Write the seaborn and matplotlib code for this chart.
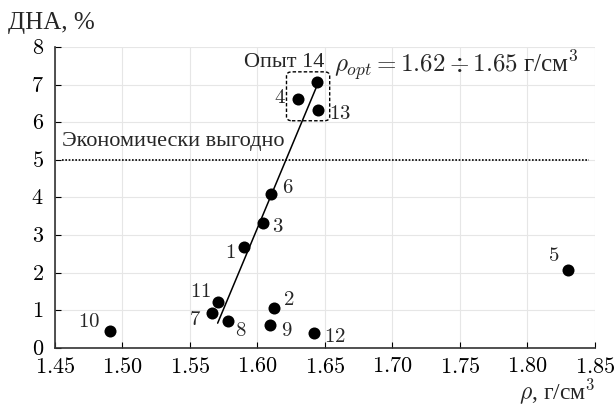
import matplotlib
matplotlib.use("Agg")
import matplotlib.pyplot as plt
import seaborn as sns
import pandas as pd
from matplotlib.patches import FancyBboxPatch
from matplotlib.ticker import FuncFormatter

# ---- data ----
exp_ids = [1, 2, 3, 4, 5, 6, 7, 8, 9, 10, 11, 12, 13, 14]
density = [1.590, 1.612, 1.604, 1.630, 1.830, 1.610, 1.566, 1.578, 1.609, 1.491, 1.571, 1.642, 1.645, 1.644]
dna_pct = [2.69, 1.07, 3.32, 6.63, 2.07, 4.09, 0.92, 0.73, 0.61, 0.46, 1.21, 0.39, 6.32, 7.06]
trend_x = [1.5705, 1.6436]
trend_y = [0.66, 6.93]
threshold = 5.0
threshold_x = [1.4552, 1.8456]
optimal_group = [4, 13, 14]
x_ticks = [1.45, 1.50, 1.55, 1.60, 1.65, 1.70, 1.75, 1.80, 1.85]
y_ticks = [0, 1, 2, 3, 4, 5, 6, 7, 8]

# label offsets in points (styling)
offsets = {1: (-10, -5), 2: (11, 5), 3: (11, -3), 4: (-13, 0), 5: (-10, 10),
           6: (12, 4), 7: (-12, -5), 8: (9, -8), 9: (12, -5), 10: (-15, 6),
           11: (-13, 7), 12: (15, -3), 13: (16, -3)}

sns.set_theme(style="whitegrid")
plt.rcParams['font.family'] = ['Liberation Serif', 'DejaVu Serif']
plt.rcParams['mathtext.fontset'] = 'cm'

df = pd.DataFrame({"id": exp_ids, "rho": density, "dna": dna_pct})

fig = plt.figure(figsize=(6.15, 4.07), dpi=100)
ax = fig.add_axes([0.0894, 0.145, 0.878, 0.7395])
ax.set_facecolor("white")

sns.scatterplot(data=df, x="rho", y="dna", ax=ax, s=75, color="black",
                edgecolor="black", linewidth=0, zorder=5)
sns.lineplot(x=trend_x, y=trend_y, ax=ax, color="black", linewidth=1.1, zorder=4)
ax.plot(threshold_x, [threshold, threshold], color="black", linestyle=(0, (1, 1)),
        linewidth=1.2, zorder=3)

ax.set_xlim(1.45, 1.85)
ax.set_ylim(0, 8)
ax.set_xticks(x_ticks)
ax.set_yticks(y_ticks)
ax.xaxis.set_major_formatter(FuncFormatter(lambda v, p: f"${v:.2f}$"))
ax.yaxis.set_major_formatter(FuncFormatter(lambda v, p: f"${int(round(v))}$"))
ax.tick_params(axis="both", which="major", direction="in", length=4, width=0.8,
               colors="black", labelsize=16, bottom=True, left=True)
ax.tick_params(axis="x", pad=7)
ax.tick_params(axis="y", pad=8)
ax.grid(True, color="#e6e6e6", linewidth=0.8)
for side in ["top", "right"]:
    ax.spines[side].set_visible(False)
for side in ["left", "bottom"]:
    ax.spines[side].set_visible(True)
    ax.spines[side].set_color("#333333")
    ax.spines[side].set_linewidth(1.2)
ax.set_xlabel("")
ax.set_ylabel("")

for i, xv, yv in zip(exp_ids, density, dna_pct):
    if i in offsets:
        ax.annotate(f"${i}$", (xv, yv), xytext=offsets[i], textcoords="offset points",
                    ha="center", va="center", fontsize=15, zorder=6)

# dashed box around optimal group
gx = [density[exp_ids.index(k)] for k in optimal_group]
gy = [dna_pct[exp_ids.index(k)] for k in optimal_group]
padx, pady = 0.0085, 0.28
box = FancyBboxPatch((min(gx) - padx, min(gy) - pady),
                     max(gx) - min(gx) + 2 * padx, max(gy) - min(gy) + 2 * pady,
                     boxstyle="round,pad=0,rounding_size=0.004",
                     mutation_aspect=28, fill=False, edgecolor="black",
                     linestyle=(0, (2.5, 1.5)), linewidth=1.0, zorder=4)
ax.add_patch(box)

ax.text(1.6196, 7.58, "Опыт 14", ha="center", va="center", fontsize=16)
ax.text(1.6567, 7.50, r"$\rho_{opt} = 1.62 \div 1.65$ г/см$^3$", ha="left",
        va="center", fontsize=18)
ax.text(1.4552, 5.48, "Экономически выгодно", ha="left", va="center", fontsize=16)

fig.text(0.013, 1 - 23 / 407, "ДНА, %", ha="left", va="center", fontsize=18)
fig.text(0.968, 0.002, r"$\rho$, г/см$^3$", ha="right", va="bottom", fontsize=17)

fig.savefig("out.png", dpi=100, facecolor="white")
